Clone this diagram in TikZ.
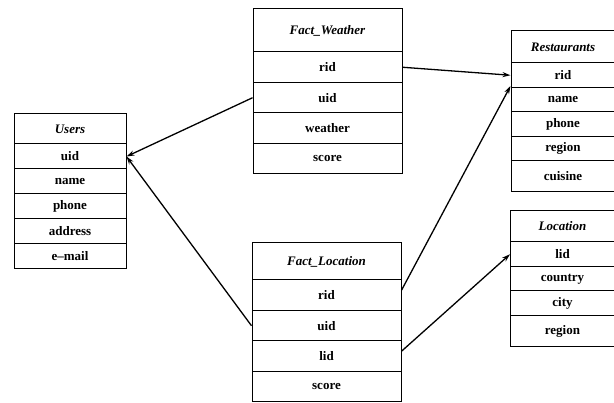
\documentclass[tikz,border=0pt]{standalone}
\usepackage{fontspec}
\setmainfont{Liberation Serif}
\usetikzlibrary{arrows.meta}
\begin{document}
\begin{tikzpicture}[x=1pt, y=-1pt,
        cell/.style={draw, line width=1pt, inner sep=0pt, font=\fontsize{13}{15}\selectfont\bfseries},
        head/.style={cell, font=\fontsize{13}{15}\selectfont\bfseries\itshape},
        usr/.style={minimum width=112pt, minimum height=25pt},
        fact/.style={minimum width=149pt, minimum height=30.5pt},
        dim/.style={minimum width=104pt, minimum height=24.5pt},
        link/.style={-{Stealth[length=8pt, width=5pt]}, line width=1.3pt}]
                    \useasboundingbox (0,0) rectangle (614,403);
                    \path   node[head, usr, minimum height=30pt] (U0) at (70, 129) {Users}
                            node[cell, usr] (U1) at (70, 156.5) {uid}
                            node[cell, usr] (U2) at (70, 181.5) {name}
                            node[cell, usr] (U3) at (70, 206.5) {phone}
                            node[cell, usr] (U4) at (70, 231.5) {address}
                            node[cell, usr] (U5) at (70, 256.5) {e--mail};
                    \path   node[head, fact, minimum height=43pt] (W0) at (327.5, 30.5) {Fact\_Weather}
                            node[cell, fact] (W1) at (327.5, 67.25) {rid}
                            node[cell, fact] (W2) at (327.5, 97.75) {uid}
                            node[cell, fact] (W3) at (327.5, 128.25) {weather}
                            node[cell, fact] (W4) at (327.5, 158.75) {score};
                    \path   node[head, fact, minimum height=37pt] (L0) at (326.5, 261.5) {Fact\_Location}
                            node[cell, fact] (L1) at (326.5, 295.25) {rid}
                            node[cell, fact] (L2) at (326.5, 325.75) {uid}
                            node[cell, fact] (L3) at (326.5, 356.25) {lid}
                            node[cell, fact] (L4) at (326.5, 386.75) {score};
                    \path   node[head, dim, minimum height=32pt] (R0) at (563, 47) {Restaurants}
                            node[cell, dim] (R1) at (563, 75.25) {rid}
                            node[cell, dim] (R2) at (563, 99.75) {name}
                            node[cell, dim] (R3) at (563, 124.25) {phone}
                            node[cell, dim] (R4) at (563, 148.75) {region}
                            node[cell, dim, minimum height=31pt] (R5) at (563, 176.5) {cuisine};
                    \path   node[head, dim, minimum height=31pt] (N0) at (562.5, 226.5) {Location}
                            node[cell, dim] (N1) at (562.5, 254.25) {lid}
                            node[cell, dim] (N2) at (562.5, 278.75) {country}
                            node[cell, dim] (N3) at (562.5, 303.25) {city}
                            node[cell, dim, minimum height=31.5pt] (N4) at (562.5, 331.25) {region};
                    \draw[link] (W2.west) -- (U1.east);
                    \draw[link] (L2.west) -- (U1.east);
                    \draw[link] (W1.east) -- (R1.west);
                    \draw[link] ([yshift=5pt]L1.east) -- ([yshift=2pt]R1.south west);
                    \draw[link] ([yshift=5pt]L3.east) -- (N1.west);
                \end{tikzpicture}
\end{document}
